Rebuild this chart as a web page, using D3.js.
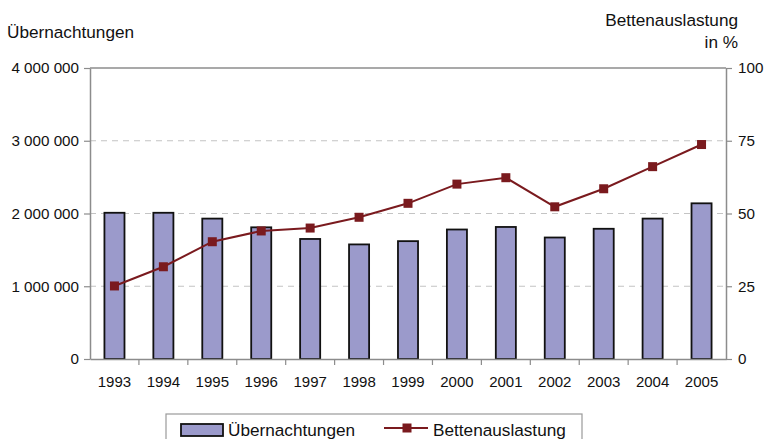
<!DOCTYPE html>
<html>
<head>
<meta charset="utf-8">
<script src="https://cdn.jsdelivr.net/npm/d3@7"></script>
<style>
  html, body { margin: 0; padding: 0; background: #fff; }
  svg text { font-family: "Liberation Sans", Arial, sans-serif; fill: #111; }
</style>
</head>
<body>
<svg id="chart" width="764" height="439"></svg>
<script>
const years = ["1993","1994","1995","1996","1997","1998","1999","2000","2001","2002","2003","2004","2005"];
const uebernachtungen = [2010000, 2010000, 1930000, 1810000, 1650000, 1575000, 1620000, 1780000, 1815000, 1670000, 1790000, 1930000, 2140000];
const bettenauslastung = [25.1, 31.7, 40.3, 44.0, 45.0, 48.7, 53.5, 60.1, 62.3, 52.3, 58.5, 66.1, 73.7];
const leftTicks = [0, 1000000, 2000000, 3000000, 4000000];
const rightTicks = [0, 25, 50, 75, 100];
const leftTitle = "Übernachtungen";
const rightTitle = ["Bettenauslastung", "in %"];
const legendLabels = ["Übernachtungen", "Bettenauslastung"];

const svg = d3.select("#chart");
const L = 90, R = 726, T = 68, B = 359;
const axisColor = "#8c8c8c";
const barFill = "#9b9acb";
const lineColor = "#7a1a1e";
const FONT = "Liberation Sans, Arial, sans-serif";
const titleSize = 17.2;

const x = d3.scaleBand().domain(years).range([L, R]).paddingInner(0.59).paddingOuter(0.295);
const yL = d3.scaleLinear().domain([0, 4000000]).range([B, T]);
const yR = d3.scaleLinear().domain([0, 100]).range([B, T]);

const fmt = v => d3.format(",")(v).replace(/,/g, " ");

// gridlines
svg.append("g").selectAll("line").data(leftTicks.filter(d => d > 0 && d < 4000000)).join("line")
  .attr("x1", L).attr("x2", R).attr("y1", d => yL(d)).attr("y2", d => yL(d))
  .attr("stroke", "#c4c4c4").attr("stroke-width", 1.2).attr("stroke-dasharray", "6,5");

// top border
svg.append("line").attr("x1", L).attr("x2", R).attr("y1", T).attr("y2", T)
  .attr("stroke", axisColor).attr("stroke-width", 1.5);

// left axis
const gL = svg.append("g").attr("transform", `translate(${L},0)`)
  .call(d3.axisLeft(yL).tickValues(leftTicks).tickFormat(fmt).tickSize(6).tickSizeOuter(0).tickPadding(5));
gL.attr("font-family", FONT);
gL.select(".domain").attr("stroke", axisColor).attr("stroke-width", 1.5);
gL.selectAll(".tick line").attr("stroke", axisColor).attr("stroke-width", 1.2);
gL.selectAll("text").attr("font-size", 15.2).attr("fill", "#111");

// right axis
const gR = svg.append("g").attr("transform", `translate(${R},0)`)
  .call(d3.axisRight(yR).tickValues(rightTicks).tickSize(6).tickSizeOuter(0).tickPadding(6));
gR.attr("font-family", FONT);
gR.select(".domain").attr("stroke", axisColor).attr("stroke-width", 1.5);
gR.selectAll(".tick line").attr("stroke", axisColor).attr("stroke-width", 1.2);
gR.selectAll("text").attr("font-size", 15.2).attr("fill", "#111");

// bars
svg.append("g").selectAll("rect").data(years).join("rect")
  .attr("x", d => x(d)).attr("width", x.bandwidth())
  .attr("y", (d, i) => yL(uebernachtungen[i]))
  .attr("height", (d, i) => B - yL(uebernachtungen[i]))
  .attr("fill", barFill).attr("stroke", "#111").attr("stroke-width", 1.8);

// x axis
const gX = svg.append("g").attr("transform", `translate(0,${B})`)
  .call(d3.axisBottom(x).tickSize(0).tickPadding(17));
gX.attr("font-family", FONT);
gX.select(".domain").attr("stroke", axisColor).attr("stroke-width", 1.5);
gX.selectAll("text").attr("font-size", 15).attr("fill", "#111");
const gap = x.step() * x.paddingInner() / 2;
svg.append("g").selectAll("line").data(years.slice(1)).join("line")
  .attr("x1", d => x(d) - gap).attr("x2", d => x(d) - gap)
  .attr("y1", B).attr("y2", B + 6).attr("stroke", axisColor).attr("stroke-width", 1.2);

// line
const cx = d => x(d) + x.bandwidth() / 2;
const line = d3.line().x((d, i) => cx(years[i])).y(d => yR(d));
svg.append("path").datum(bettenauslastung).attr("d", line)
  .attr("fill", "none").attr("stroke", lineColor).attr("stroke-width", 2);
svg.append("g").selectAll("rect").data(bettenauslastung).join("rect")
  .attr("x", (d, i) => cx(years[i]) - 4.5).attr("y", d => yR(d) - 4.5)
  .attr("width", 9).attr("height", 9).attr("fill", lineColor);

// axis titles
svg.append("text").attr("x", 7).attr("y", 38).attr("font-size", titleSize).text(leftTitle);
svg.append("text").attr("x", 738).attr("y", 26).attr("text-anchor", "end").attr("font-size", titleSize).text(rightTitle[0]);
svg.append("text").attr("x", 738).attr("y", 48).attr("text-anchor", "end").attr("font-size", titleSize).text(rightTitle[1]);

// legend
const lg = svg.append("g");
lg.append("rect").attr("x", 166).attr("y", 414).attr("width", 416).attr("height", 40)
  .attr("fill", "#fff").attr("stroke", "#9a9a9a").attr("stroke-width", 1.2);
lg.append("rect").attr("x", 181).attr("y", 424).attr("width", 42).attr("height", 12)
  .attr("fill", barFill).attr("stroke", "#111").attr("stroke-width", 1.8);
lg.append("text").attr("x", 228).attr("y", 436).attr("font-size", titleSize).text(legendLabels[0]);
lg.append("line").attr("x1", 384).attr("x2", 428).attr("y1", 428).attr("y2", 428)
  .attr("stroke", lineColor).attr("stroke-width", 2);
lg.append("rect").attr("x", 402.5).attr("y", 423.5).attr("width", 9).attr("height", 9).attr("fill", lineColor);
lg.append("text").attr("x", 433).attr("y", 436).attr("font-size", titleSize).text(legendLabels[1]);
</script>
</body>
</html>
